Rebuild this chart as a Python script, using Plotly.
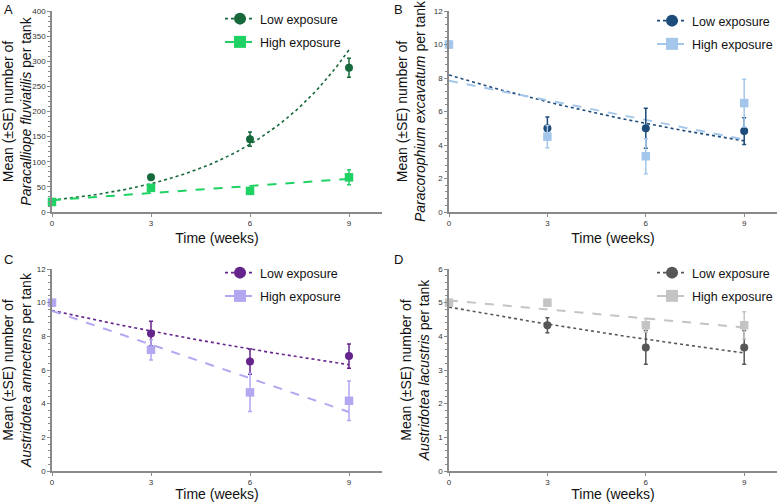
import numpy as np
import plotly.graph_objects as go
from plotly.subplots import make_subplots

weeks = [0, 3, 6, 9]

# panel A - Paracalliope fluviatilis
a_low = [20, 69, 145, 287]
a_low_se = [0, 3, 14, 19]
a_high = [20, 48, 42, 69]
a_high_se = [0, 5, 2, 15]

# panel B - Paracorophium excavatum
b_low = [10, 5.0, 5.0, 4.83]
b_low_se = [0, 0.67, 1.2, 0.8]
b_high = [10, 4.5, 3.33, 6.5]
b_high_se = [0, 0.67, 1.05, 1.43]

# panel C - Austridotea annectens
c_low = [10, 8.17, 6.5, 6.83]
c_low_se = [0, 0.73, 0.75, 0.72]
c_high = [10, 7.2, 4.67, 4.17]
c_high_se = [0, 0.6, 1.13, 1.17]

# panel D - Austridotea lacustris
d_low = [5, 4.33, 3.67, 3.67]
d_low_se = [0, 0.22, 0.5, 0.5]
d_high = [5, 5, 4.33, 4.33]
d_high_se = [0, 0, 0.2, 0.4]

species = ["Paracalliope fluviatilis", "Paracorophium excavatum",
           "Austridotea annectens", "Austridotea lacustris"]
letters = ["A", "B", "C", "D"]
low_colors = ["#16693a", "#1d4b7a", "#64248c", "#575757"]
high_colors = ["#1fd263", "#a3c6ea", "#b3a7f2", "#c4c4c4"]
y_max = [400, 12, 12, 6]
y_dtick = [50, 2, 2, 1]

panels = [
    (a_low, a_low_se, a_high, a_high_se),
    (b_low, b_low_se, b_high, b_high_se),
    (c_low, c_low_se, c_high, c_high_se),
    (d_low, d_low_se, d_high, d_high_se),
]

FONT = "Liberation Sans, Arial, sans-serif"
AXIS_COL = "#8a8a8a"


def fit_curve(x, y, kind):
    """Trend line like a spreadsheet would draw (exponential or linear)."""
    x = np.array(x, dtype=float)
    y = np.array(y, dtype=float)
    xs = np.linspace(0, 9, 80)
    if kind == "exp":
        b, a = np.polyfit(x, np.log(y), 1)
        return xs, np.exp(a) * np.exp(b * xs)
    m, c = np.polyfit(x, y, 1)
    return xs, m * xs + c


fig = make_subplots(rows=2, cols=2)

x_doms = [[52 / 780, 382 / 780], [449 / 780, 777 / 780]]
y_doms = [[1 - 212 / 502, 1 - 11 / 502], [1 - 471 / 502, 1 - 269 / 502]]
legend_pos = [(220, 4), (652, 6), (220, 258), (652, 258)]

for i, (low, low_se, high, high_se) in enumerate(panels):
    row, col = i // 2 + 1, i % 2 + 1
    leg = "legend" if i == 0 else "legend%d" % (i + 1)

    xs, ys = fit_curve(weeks, low, "exp")
    fig.add_trace(go.Scatter(x=xs, y=ys, mode="lines", showlegend=False,
                             line=dict(color=low_colors[i], width=1.6, dash="dot")),
                  row=row, col=col)
    xs, ys = fit_curve(weeks, high, "linear")
    fig.add_trace(go.Scatter(x=xs, y=ys, mode="lines", showlegend=False,
                             line=dict(color=high_colors[i], width=2, dash="dash")),
                  row=row, col=col)

    fig.add_trace(go.Scatter(x=weeks, y=low, mode="markers", showlegend=False, cliponaxis=False,
                             marker=dict(color=low_colors[i], size=8, symbol="circle"),
                             error_y=dict(type="data", array=low_se, color=low_colors[i],
                                          thickness=1.5, width=2)),
                  row=row, col=col)
    fig.add_trace(go.Scatter(x=weeks, y=high, mode="markers", showlegend=False, cliponaxis=False,
                             marker=dict(color=high_colors[i], size=8.5, symbol="square"),
                             error_y=dict(type="data", array=high_se, color=high_colors[i],
                                          thickness=1.5, width=2)),
                  row=row, col=col)

    # legend entries
    fig.add_trace(go.Scatter(x=[None], y=[None], mode="lines+markers", name="Low exposure",
                             legend=leg, legendgroup="low%d" % i,
                             marker=dict(color=low_colors[i], size=12, symbol="circle"),
                             line=dict(color=low_colors[i], width=1.6, dash="dot")),
                  row=row, col=col)
    fig.add_trace(go.Scatter(x=[None], y=[None], mode="lines+markers", name="High exposure",
                             legend=leg, legendgroup="high%d" % i,
                             marker=dict(color=high_colors[i], size=12, symbol="square"),
                             line=dict(color=high_colors[i], width=2, dash="dash")),
                  row=row, col=col)

    lx, ly = legend_pos[i]
    fig.update_layout({leg: dict(x=lx / 780, y=1 - ly / 502, xanchor="left", yanchor="top",
                                 bgcolor="rgba(0,0,0,0)", tracegroupgap=4,
                                 font=dict(family=FONT, size=12.5, color="#111"))})

    fig.update_xaxes(domain=x_doms[col - 1], range=[0, 10], tickvals=[0, 3, 6, 9],
                     automargin=False,
                     showline=True, linecolor=AXIS_COL, linewidth=1.5,
                     ticks="outside", ticklen=3, tickcolor=AXIS_COL, showgrid=False, zeroline=False,
                     tickfont=dict(family=FONT, size=8, color="#333"),
                     title=dict(text="Time (weeks)", standoff=6,
                                font=dict(family=FONT, size=14, color="#111")),
                     row=row, col=col)
    fig.update_yaxes(domain=y_doms[row - 1], range=[0, y_max[i]], dtick=y_dtick[i],
                     automargin=False,
                     showline=True, linecolor=AXIS_COL, linewidth=1.5,
                     ticks="outside", ticklen=3, tickcolor=AXIS_COL, showgrid=False, zeroline=False,
                     minor=dict(dtick=y_dtick[i] / 5, ticks="outside", ticklen=2,
                                tickcolor=AXIS_COL, showgrid=False),
                     tickfont=dict(family=FONT, size=8, color="#333"),
                     title=dict(text="Mean (±SE) number of<br><i>%s</i> per tank" % species[i],
                                standoff=5, font=dict(family=FONT, size=14, color="#111")),
                     row=row, col=col)

    fig.add_annotation(text=letters[i], xref="paper", yref="paper",
                       x=(2 if col == 1 else 392) / 780, y=1 - (0 if row == 1 else 250) / 502,
                       xanchor="left", yanchor="top", showarrow=False,
                       font=dict(family=FONT, size=13, color="#111"))

fig.update_layout(width=780, height=502, margin=dict(l=0, r=0, t=0, b=0),
                  plot_bgcolor="white", paper_bgcolor="white",
                  font=dict(family=FONT))

# the page's default 8px body margin would push the figure off the window
fig.write_html("out.html", config={"displayModeBar": False},
               post_script="document.body.style.margin = '0';")
